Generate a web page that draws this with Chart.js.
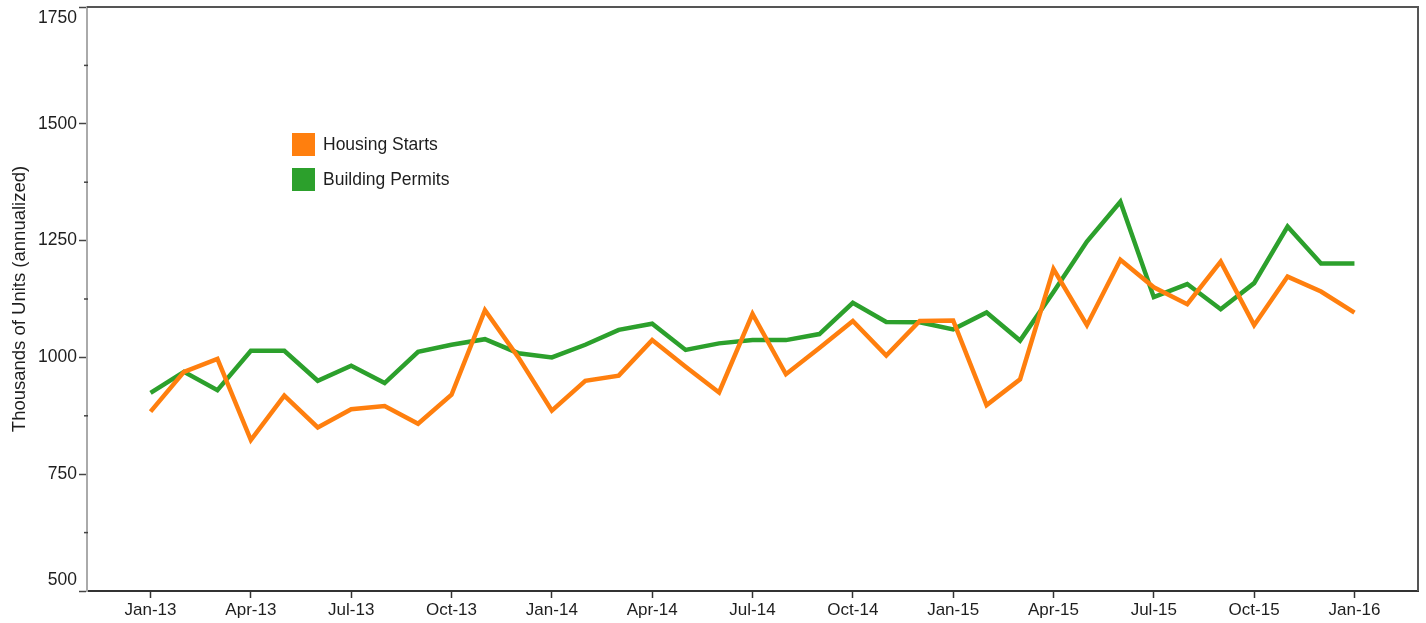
<!DOCTYPE html>
<html>
<head>
<meta charset="utf-8">
<script src="https://cdn.jsdelivr.net/npm/chart.js@4/dist/chart.umd.min.js"></script>
<style>
    html, body { margin: 0; padding: 0; background: #fff; }
    #wrap { width: 1426px; height: 623px; }
</style>
</head>
<body>
<div id="wrap"><canvas id="chartStarts"></canvas></div>
<script>
/* ============================ Data  ============================ */
const months = [
    "Jan-13", "Feb-13", "Mar-13", "Apr-13", "May-13", "Jun-13", "Jul-13", "Aug-13", "Sep-13", "Oct-13", "Nov-13", "Dec-13",
    "Jan-14", "Feb-14", "Mar-14", "Apr-14", "May-14", "Jun-14", "Jul-14", "Aug-14", "Sep-14", "Oct-14", "Nov-14", "Dec-14",
    "Jan-15", "Feb-15", "Mar-15", "Apr-15", "May-15", "Jun-15", "Jul-15", "Aug-15", "Sep-15", "Oct-15", "Nov-15", "Dec-15",
    "Jan-16",
];
const housingStarts = [
    884, 969, 997, 823, 918, 850, 889, 896, 858, 920, 1101, 1000,
    886, 950, 961, 1037, 980, 925, 1093, 964, 1020, 1078, 1004, 1078,
    1079, 898, 953, 1189, 1069, 1209, 1150, 1114, 1205, 1069, 1173, 1141,
    1096,
];
const buildingPermits = [
    924, 969, 930, 1014, 1014, 950, 982, 945, 1012, 1027, 1039, 1009,
    1000, 1027, 1059, 1072, 1016, 1030, 1037, 1037, 1050, 1117, 1076, 1075,
    1060, 1096, 1036, 1140, 1248, 1333, 1129, 1157, 1103, 1159, 1280, 1201,
    1201,
];
const yTicks = [500, 750, 1000, 1250, 1500, 1750];
const yMinorTicks = [625, 875, 1125, 1375, 1625];
const xTickEvery = 3;

const FONT = "'Liberation Sans', Arial, sans-serif";
const TEXT = "#1e1e1e";

/* ============================ Plugins  ============================ */
// frame, minor ticks, clamped y labels and the inset legend
const decor = {
    id: "decor",
    afterDraw(chart) {
        const ctx = chart.ctx;
        const a = chart.chartArea;
        const y = chart.scales.y;
        ctx.save();

        // top + right border
        ctx.strokeStyle = "#555";
        ctx.lineWidth = 2;
        ctx.beginPath();
        ctx.moveTo(a.left, a.top);
        ctx.lineTo(a.right, a.top);
        ctx.lineTo(a.right, a.bottom);
        ctx.stroke();

        // minor ticks
        ctx.strokeStyle = "#444";
        ctx.lineWidth = 1.5;
        yMinorTicks.forEach(function (v) {
            const py = y.getPixelForValue(v);
            ctx.beginPath();
            ctx.moveTo(a.left - 3, py);
            ctx.lineTo(a.left + 1, py);
            ctx.stroke();
        });

        // y labels, end ones kept inside the plot
        ctx.fillStyle = TEXT;
        ctx.font = "17.5px " + FONT;
        ctx.textAlign = "right";
        ctx.textBaseline = "middle";
        yTicks.forEach(function (v) {
            let py = y.getPixelForValue(v);
            py = Math.min(Math.max(py, a.top + 11), a.bottom - 11);
            ctx.fillText(String(v), a.left - 10, py);
        });

        // legend
        ctx.textAlign = "left";
        ctx.font = "17.5px " + FONT;
        chart.data.datasets.forEach(function (ds, i) {
            const bx = a.left + 205;
            const by = a.top + 126 + i * 35;
            ctx.fillStyle = ds.borderColor;
            ctx.fillRect(bx, by, 23, 23);
            ctx.fillStyle = TEXT;
            ctx.fillText(ds.label, bx + 31, by + 12);
        });

        ctx.restore();
    },
};

/* ============================ Chart  ============================ */
const toPoints = (arr) => arr.map((v, i) => ({ x: i, y: v }));

const startsChart = new Chart(document.getElementById("chartStarts"), {
    type: "line",
    data: {
        datasets: [
            {
                label: "Housing Starts",
                data: toPoints(housingStarts),
                borderColor: "#ff7f0e",
                backgroundColor: "#ff7f0e",
                borderWidth: 4.5,
                pointRadius: 0,
                tension: 0,
            },
            {
                label: "Building Permits",
                data: toPoints(buildingPermits),
                borderColor: "#2ca02c",
                backgroundColor: "#2ca02c",
                borderWidth: 4.5,
                pointRadius: 0,
                tension: 0,
            },
        ],
    },
    options: {
        responsive: true,
        maintainAspectRatio: false,
        animation: false,
        layout: {
            padding: { top: 7, right: 8, left: 0, bottom: 0 },
        },
        scales: {
            x: {
                type: "linear",
                min: -1.9,
                max: months.length - 1 + 1.9,
                afterBuildTicks: function (scale) {
                    scale.ticks = months
                        .map((m, i) => ({ value: i }))
                        .filter((t) => t.value % xTickEvery === 0);
                },
                afterFit: function (scale) {
                    scale.height = 32;
                },
                grid: {
                    drawOnChartArea: false,
                    tickLength: 7,
                    tickColor: "#333",
                    tickWidth: 1.5,
                },
                border: { color: "#333", width: 2 },
                ticks: {
                    autoSkip: false,
                    maxRotation: 0,
                    padding: 2,
                    color: TEXT,
                    font: { family: FONT, size: 17 },
                    callback: function (value) {
                        return months[value];
                    },
                },
            },
            y: {
                min: yTicks[0],
                max: yTicks[yTicks.length - 1],
                afterBuildTicks: function (scale) {
                    scale.ticks = yTicks.map((v) => ({ value: v }));
                },
                afterFit: function (scale) {
                    scale.width = 87;
                },
                grid: {
                    drawOnChartArea: false,
                    tickLength: 8,
                    tickColor: "#444",
                    tickWidth: 1.5,
                },
                border: { color: "#aaa", width: 2 },
                ticks: { display: false },
                title: {
                    display: true,
                    text: "Thousands of Units (annualized)",
                    color: TEXT,
                    padding: { top: 9, bottom: 0 },
                    font: { family: FONT, size: 18.5 },
                },
            },
        },
        plugins: {
            legend: { display: false },
            tooltip: { enabled: false },
        },
    },
    plugins: [decor],
});
</script>
</body>
</html>
